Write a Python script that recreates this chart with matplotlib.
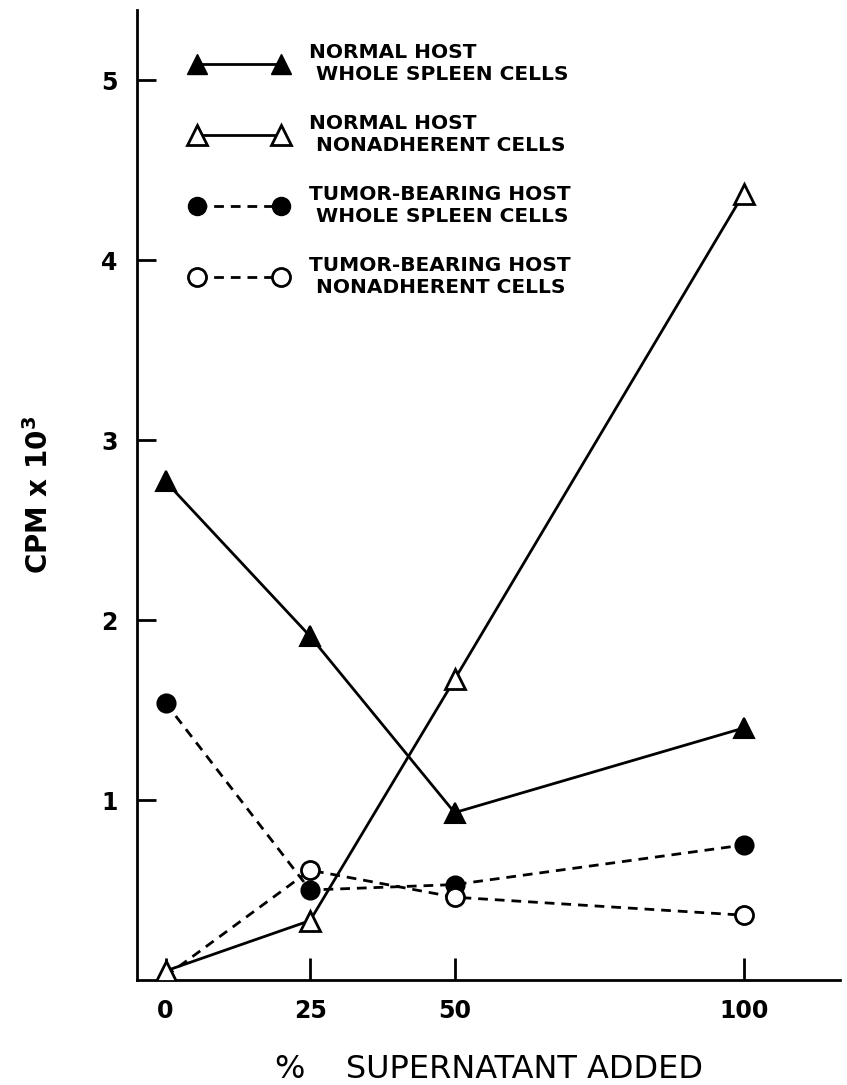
import numpy as np
import matplotlib.pyplot as plt
from matplotlib.lines import Line2D

# % supernatant added
supernatant = [0, 25, 50, 100]

# CPM x 10^3 for each cell population
normal_whole = [2.77, 1.91, 0.93, 1.40]
normal_nonadh = [0.05, 0.33, 1.67, 4.37]
tumor_whole = [1.54, 0.50, 0.53, 0.75]
tumor_nonadh = [0.02, 0.61, 0.46, 0.36]

labels = [
    'NORMAL HOST\n WHOLE SPLEEN CELLS',
    'NORMAL HOST\n NONADHERENT CELLS',
    'TUMOR-BEARING HOST\n WHOLE SPLEEN CELLS',
    'TUMOR-BEARING HOST\n NONADHERENT CELLS',
]

plt.rcParams['font.family'] = ['DejaVu Sans']

fig = plt.figure(figsize=(8.47, 10.85), dpi=100)
ax = fig.add_axes([0.162, 0.0968, 0.83, 0.894])

lw = 2.0
dash = (0, (3.5, 2.5))

ax.plot(supernatant, normal_whole, '-', color='black', lw=lw,
        marker='^', ms=15, mfc='black', mec='black', mew=1.5, zorder=3)
ax.plot(supernatant, normal_nonadh, '-', color='black', lw=lw,
        marker='^', ms=15, mfc='white', mec='black', mew=2, zorder=4)
ax.plot(supernatant, tumor_whole, linestyle=dash, color='black', lw=lw,
        marker='o', ms=13, mfc='black', mec='black', mew=1.5, zorder=3)
ax.plot(supernatant, tumor_nonadh, linestyle=dash, color='black', lw=lw,
        marker='o', ms=13, mfc='white', mec='black', mew=2,
        markevery=[1, 2, 3], zorder=3)

ax.set_xlim(-4.9, 116.7)
ax.set_ylim(0, 5.39)

ax.set_xticks(supernatant)
ax.set_xticklabels(['0', '25', '50', '100'])
ax.set_yticks([1, 2, 3, 4, 5])
ax.set_yticklabels(['1', '2', '3', '4', '5'])

ax.tick_params(axis='x', direction='in', length=16, width=2, pad=14,
               labelsize=17)
ax.tick_params(axis='y', direction='in', length=14, width=2, pad=14,
               labelsize=17)
for t in ax.get_xticklabels() + ax.get_yticklabels():
    t.set_fontweight('bold')

for side in ['top', 'right']:
    ax.spines[side].set_visible(False)
for side in ['left', 'bottom']:
    ax.spines[side].set_linewidth(2)

ax.set_xlabel('%    SUPERNATANT ADDED', fontsize=23, labelpad=22)
ax.set_ylabel(r'CPM x 10$^{\mathbf{3}}$', fontsize=20, fontweight='bold',
              labelpad=34)

# legend entries with a marker at each end of the line
handles = [
    Line2D([], [], color='black', lw=lw, marker='^', ms=15,
           mfc='black', mec='black'),
    Line2D([], [], color='black', lw=lw, marker='^', ms=15,
           mfc='white', mec='black', mew=2),
    Line2D([], [], color='black', lw=lw, linestyle=dash, marker='o', ms=13,
           mfc='black', mec='black'),
    Line2D([], [], color='black', lw=lw, linestyle=dash, marker='o', ms=13,
           mfc='white', mec='black', mew=2),
]
leg = ax.legend(handles, labels, loc='upper left', bbox_to_anchor=(0.05, 0.985),
                numpoints=2, handlelength=4.8, handletextpad=1.1,
                labelspacing=1.5, frameon=False,
                prop={'size': 14.5, 'weight': 'bold'})

fig.savefig('out.png', dpi=100)
